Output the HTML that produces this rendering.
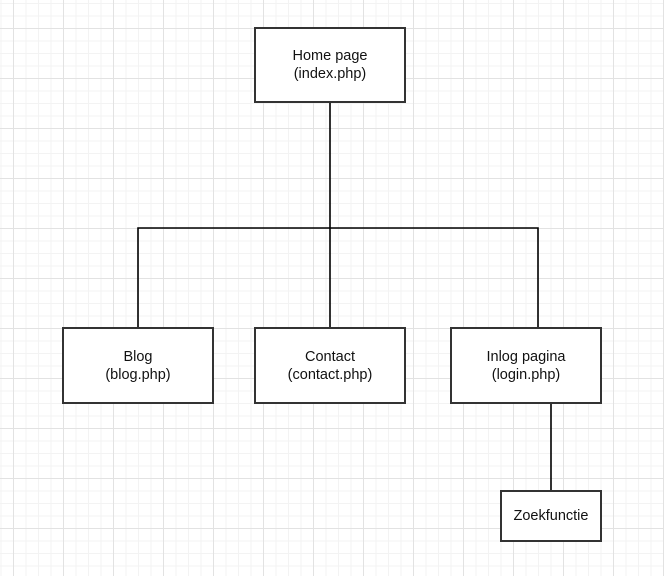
<!DOCTYPE html>
<html><head><style>
html,body{margin:0;padding:0;}
body{width:664px;height:576px;overflow:hidden;background:#fff;
background-image:
linear-gradient(to right,#e2e2e2 1px,transparent 1px),
linear-gradient(to bottom,#e2e2e2 1px,transparent 1px),
linear-gradient(to right,#f3f3f3 1px,transparent 1px),
linear-gradient(to bottom,#f3f3f3 1px,transparent 1px);
background-size:50px 50px,50px 50px,12.5px 12.5px,12.5px 12.5px;
background-position:13px 28px,13px 28px,0.5px 3px,0.5px 3px;
font-family:"Liberation Sans",Arial,sans-serif;position:relative;}
.b{position:absolute;box-sizing:border-box;border:2px solid #333;background:#fff;display:flex;align-items:center;justify-content:center;text-align:center;font-size:14.5px;line-height:18px;color:#111;}
svg{position:absolute;left:0;top:0;}
</style></head><body>
<svg width="664" height="576"><g stroke="#000" stroke-width="1.6" fill="none">
<path d="M330 102V228M138 328V228H538V328M330 228V328M551 403V491"/>
</g></svg>
<div class="b" style="left:254px;top:27px;width:152px;height:76px">Home page<br>(index.php)</div>
<div class="b" style="left:62px;top:327px;width:152px;height:77px">Blog<br>(blog.php)</div>
<div class="b" style="left:254px;top:327px;width:152px;height:77px">Contact<br>(contact.php)</div>
<div class="b" style="left:450px;top:327px;width:152px;height:77px">Inlog pagina<br>(login.php)</div>
<div class="b" style="left:500px;top:490px;width:102px;height:52px">Zoekfunctie</div>
</body></html>
